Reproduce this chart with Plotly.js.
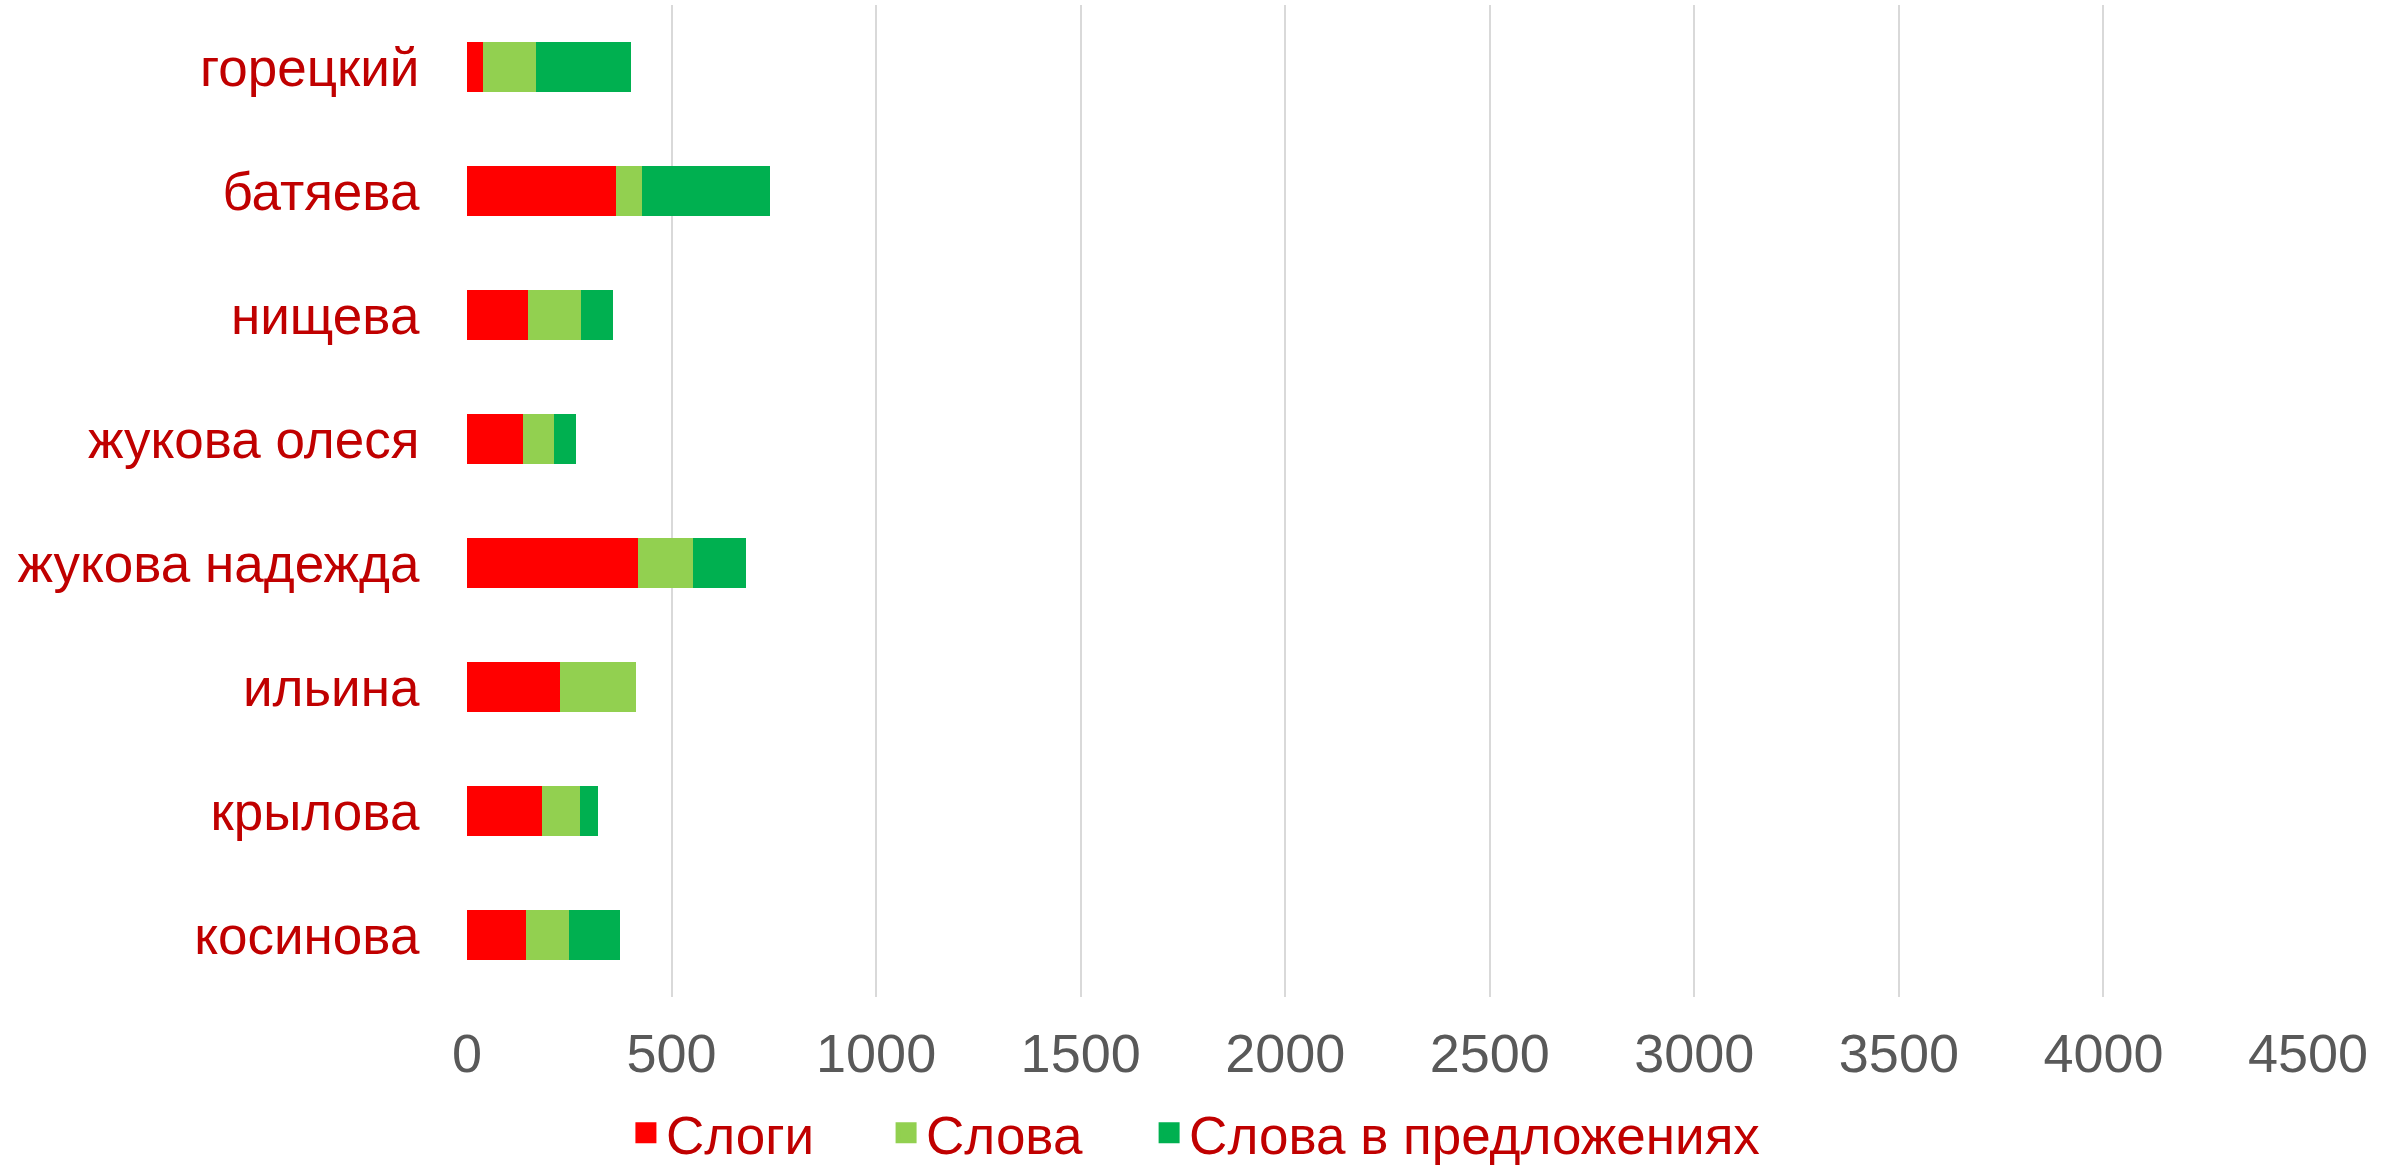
<!DOCTYPE html>
<html>
<head>
<meta charset="utf-8">
<script src="https://cdn.plot.ly/plotly-3.0.1.min.js"></script>
<style>html,body{margin:0;padding:0;background:#fff;}#chart{width:2389px;height:1169px;}</style>
</head>
<body>
<div id="chart"></div>
<script>
const categories = ["горецкий", "батяева", "нищева", "жукова олеся", "жукова надежда", "ильина", "крылова", "косинова"];
const slogi = [40, 363, 150, 136, 417, 227, 184, 144];
const slova = [128, 64, 128, 76, 135, 187, 91, 105];
const slovaPredl = [232, 314, 80, 54, 131, 0, 46, 126];
const seriesNames = ["Слоги", "Слова", "Слова в предложениях"];
const seriesColors = ["#FF0000", "#92D050", "#00B050"];
const xTicks = [0, 500, 1000, 1500, 2000, 2500, 3000, 3500, 4000, 4500];

const seriesValues = [slogi, slova, slovaPredl];
const legendIds = ["legend", "legend2", "legend3"];
const traces = [];
seriesValues.forEach((vals, i) => {
  traces.push({
    type: "bar", orientation: "h", name: seriesNames[i],
    y: categories, x: vals,
    marker: {color: seriesColors[i], line: {width: 0}},
    showlegend: false, hoverinfo: "x+y"
  });
});
seriesValues.forEach((vals, i) => {
  traces.push({
    type: "scatter", mode: "markers", name: seriesNames[i],
    x: [null], y: [null], legend: legendIds[i],
    marker: {symbol: "square", size: 16, color: seriesColors[i], line: {color: seriesColors[i], width: 5}},
    showlegend: true, hoverinfo: "skip"
  });
});

function legendAt(xPos) {
  return {
    orientation: "h", xref: "container", x: xPos, xanchor: "left",
    y: -0.137, yanchor: "middle",
    font: {family: "Liberation Sans, Arial, sans-serif", size: 53, color: "#C00000"},
    bgcolor: "rgba(0,0,0,0)", itemclick: false, itemdoubleclick: false
  };
}

const layout = {
  width: 2389, height: 1169,
  barmode: "stack", bargap: 0.6,
  paper_bgcolor: "#ffffff", plot_bgcolor: "#ffffff",
  margin: {l: 467, r: 81, t: 5, b: 172, autoexpand: false},
  font: {family: "Liberation Sans, Arial, sans-serif", size: 53, color: "#C00000"},
  xaxis: {
    range: [0, 4500], tickvals: xTicks, ticktext: xTicks.map(String),
    showgrid: true, gridcolor: "#D9D9D9", gridwidth: 2,
    zeroline: false, showline: false,
    ticks: "outside", ticklen: 9, tickcolor: "rgba(0,0,0,0)",
    tickfont: {family: "Liberation Sans, Arial, sans-serif", size: 54, color: "#595959"},
    fixedrange: true
  },
  yaxis: {
    type: "category", categoryorder: "array", categoryarray: categories,
    autorange: "reversed",
    showgrid: false, zeroline: false, showline: false,
    ticks: "outside", ticklen: 36, tickcolor: "rgba(0,0,0,0)",
    tickfont: {family: "Liberation Sans, Arial, sans-serif", size: 53, color: "#C00000"},
    fixedrange: true
  },
  legend: legendAt(0.262),
  legend2: legendAt(0.3709),
  legend3: legendAt(0.481)
};

Plotly.newPlot("chart", traces, layout, {displayModeBar: false, staticPlot: true});
</script>
</body>
</html>
